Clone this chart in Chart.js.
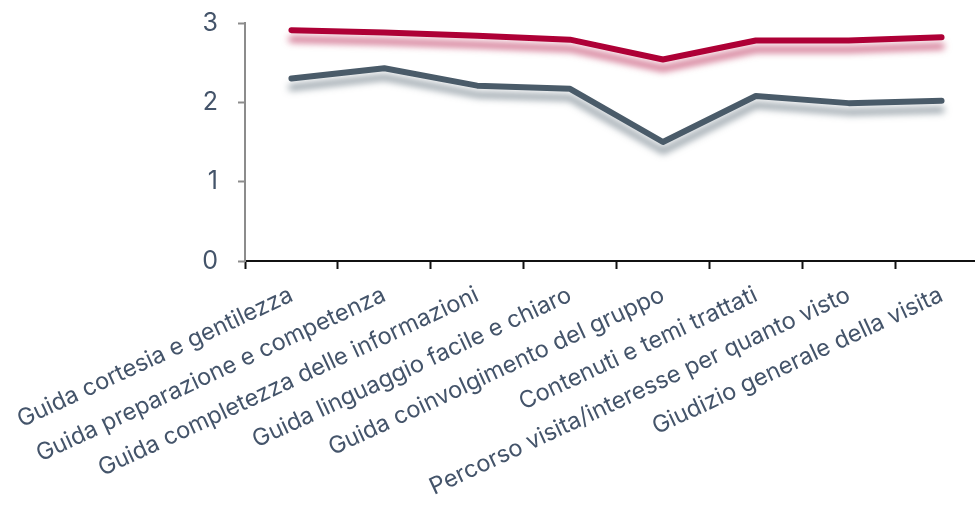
<!DOCTYPE html>
<html>
<head>
<meta charset="utf-8">
<script src="https://cdn.jsdelivr.net/npm/chart.js@4"></script>
<style>
  html, body { margin: 0; padding: 0; background: #fff; overflow: hidden; }
  #wrap { width: 990px; height: 509px; }
</style>
</head>
<body>
<div id="wrap"><canvas id="chart" width="990" height="509"></canvas></div>
<script>
// Categories (x axis)
const categories = [
    "Guida cortesia e gentilezza",
    "Guida preparazione e competenza",
    "Guida completezza delle informazioni",
    "Guida linguaggio facile e chiaro",
    "Guida coinvolgimento del gruppo",
    "Contenuti e temi trattati",
    "Percorso visita/interesse per quanto visto",
    "Giudizio generale della visita"
];

// Series values
const redSeries = [2.91, 2.88, 2.84, 2.79, 2.54, 2.78, 2.78, 2.82];
const greySeries = [2.30, 2.43, 2.21, 2.17, 1.50, 2.08, 1.99, 2.02];

// Y tick values
const yTicks = [0, 1, 2, 3];

const textColor = '#44546a';

// Soft drop shadow under each line
const lineShadow = {
    id: 'lineShadow',
    beforeDatasetDraw(chart, args) {
        const ctx = chart.ctx;
        ctx.save();
        ctx.shadowColor = args.index === 0
            ? 'rgba(174, 0, 54, 0.6)'
            : 'rgba(74, 91, 105, 0.6)';
        ctx.shadowBlur = 7;
        ctx.shadowOffsetX = 0;
        ctx.shadowOffsetY = 9;
    },
    afterDatasetDraw(chart) {
        chart.ctx.restore();
    }
};

new Chart(document.getElementById('chart'), {
    type: 'line',
    data: {
        labels: categories,
        datasets: [{
            label: 'Serie 1',
            data: redSeries,
            borderColor: '#ae0036',
            borderWidth: 6,
            borderCapStyle: 'round',
            borderJoinStyle: 'round',
            pointRadius: 0,
            tension: 0,
        }, {
            label: 'Serie 2',
            data: greySeries,
            borderColor: '#4a5b69',
            borderWidth: 6,
            borderCapStyle: 'round',
            borderJoinStyle: 'round',
            pointRadius: 0,
            tension: 0,
        }]
    },
    options: {
        responsive: false,
        animation: false,
        layout: { padding: { top: 23, right: 2, left: 0, bottom: 0 } },
        plugins: {
            legend: { display: false },
            tooltip: { enabled: false }
        },
        scales: {
            x: {
                offset: true,
                afterFit: (scale) => {
                    scale.height = 248;
                    scale.paddingLeft = 0;
                    scale.paddingRight = 0;
                },
                grid: {
                    offset: true,
                    drawOnChartArea: false,
                    drawTicks: true,
                    tickLength: 8,
                    tickWidth: 2,
                    color: '#111'
                },
                border: { display: true, color: '#111', width: 2 },
                ticks: {
                    autoSkip: false,
                    minRotation: 25,
                    maxRotation: 25,
                    padding: 12,
                    color: textColor,
                    font: { family: 'Inter', size: 23.5 }
                }
            },
            y: {
                min: 0,
                max: 3,
                afterFit: (scale) => {
                    scale.width = 245;
                    scale.paddingTop = 0;
                    scale.paddingBottom = 0;
                },
                afterBuildTicks: (scale) => {
                    scale.ticks = yTicks.map(v => ({ value: v }));
                },
                grid: {
                    drawOnChartArea: false,
                    drawTicks: true,
                    tickLength: 7,
                    tickWidth: 2,
                    color: '#8c8c8c'
                },
                border: { display: true, color: '#8c8c8c', width: 2 },
                ticks: {
                    padding: 20,
                    color: textColor,
                    font: { family: 'Inter', size: 25 }
                }
            }
        }
    },
    plugins: [lineShadow]
});
</script>
</body>
</html>
